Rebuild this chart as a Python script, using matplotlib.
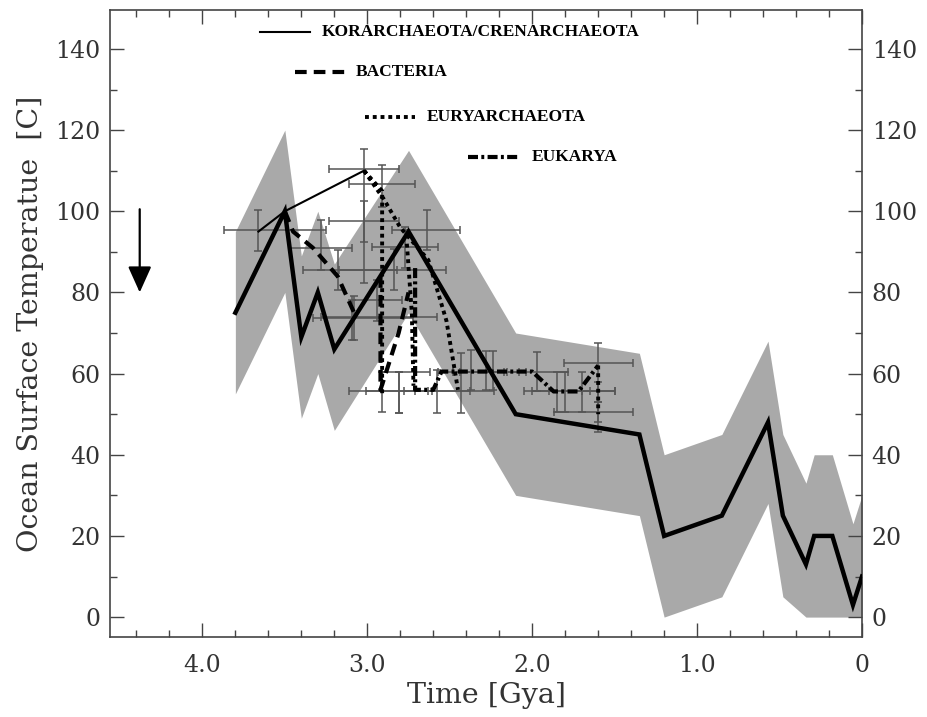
import matplotlib
matplotlib.use("Agg")
import matplotlib.pyplot as plt
import numpy as np
from matplotlib.ticker import MultipleLocator

# Mean ocean surface temperature history with its uncertainty envelope
main_t = [3.80, 3.50, 3.40, 3.30, 3.20, 2.75, 2.10, 1.35, 1.20, 0.85, 0.57, 0.48, 0.34, 0.29, 0.18, 0.055, 0.0]
main_T = [75, 100, 69, 80, 66, 95, 50, 45, 20, 25, 48, 25, 13, 20, 20, 3, 10]
band_hi = [95, 120, 89, 100, 87, 115, 70, 65, 40, 45, 68, 45, 33, 40, 40, 23, 30]
band_lo = [55, 80, 49, 60, 46, 75, 30, 25, 0, 5, 28, 5, 0, 0, 0, 0, 0]

# Lineage temperature paths (NaN separates branches)
kor_t = [3.66, 3.50, 3.02]
kor_T = [95, 100, 110]

bac_t = [3.50, 3.45, 3.33, 3.18, 3.08, np.nan, 2.92, 2.92, 2.81, 2.75]
bac_T = [100, 95, 91, 84, 75, np.nan, 84, 56, 70, 80]

eur_t = [3.02, 2.90, 2.80, 2.63, 2.52, 2.45, np.nan, 3.02, 2.91, 2.91, np.nan,
         2.76, 2.73, 2.72, np.nan, 1.60, 1.60]
eur_T = [110, 103, 96, 88, 73, 56, np.nan, 110, 105, 55, np.nan,
         92, 75, 57, np.nan, 62, 50]

euk_t = [2.71, 2.71, 2.60, 2.55, 2.00, 1.87, 1.72, 1.60]
euk_T = [86, 56, 56, 60.5, 60.5, 55.6, 55.6, 62]

# Node estimates: centre and extent of the time / temperature ranges
eb_t    = [3.66, 3.02, 2.91, 3.02, 2.64, 3.28, 2.77, 3.18, 2.84, 3.09, 2.94, 3.08,
           2.91, 2.81, 2.58, 2.43, 2.37, 2.28, 2.24, 2.81,
           1.97, 1.60, 1.85, 1.80, 1.70, 1.60, 1.60]
eb_T    = [95.3, 110.3, 106.7, 97.5, 95.4, 91.0, 91.1, 85.6, 85.6, 74.0, 78.2, 73.7,
           55.6, 55.6, 55.6, 55.6, 60.5, 60.5, 60.5, 60.5,
           60.5, 62.6, 55.6, 55.6, 55.6, 50.6, 55.6]
eb_tmin = [3.25, 2.81, 2.71, 2.81, 2.44, 3.09, 2.57, 2.82, 2.52, 2.58, 2.79, 2.72,
           2.71, 2.61, 2.38, 2.23, 2.17, 2.08, 2.04, 2.62,
           1.78, 1.39, 1.65, 1.60, 1.50, 1.39, 1.50]
eb_tmax = [3.87, 3.23, 3.11, 3.23, 2.85, 3.47, 2.97, 3.39, 3.17, 3.28, 3.09, 3.33,
           3.11, 3.01, 2.78, 2.63, 2.57, 2.48, 2.44, 2.91,
           2.15, 1.81, 2.05, 2.00, 1.90, 1.87, 1.70]
eb_Tmin = [90.3, 82.3, 101.0, 92.5, 90.5, 85.6, 86.0, 80.6, 80.6, 68.3, 73.0, 68.3,
           50.6, 50.3, 50.3, 50.3, 56.0, 56.0, 56.0, 50.2,
           55.6, 45.7, 50.6, 50.6, 50.6, 48.0, 53.0]
eb_Tmax = [100.2, 115.3, 111.5, 102.5, 100.4, 97.9, 96.0, 90.5, 90.6, 78.2, 83.0, 79.0,
           60.5, 60.5, 61.0, 65.0, 65.8, 65.5, 65.5, 60.5,
           65.4, 67.6, 60.5, 60.5, 60.5, 53.0, 58.0]

x_ticks = [4.0, 3.0, 2.0, 1.0, 0.0]
x_ticklabels = ["4.0", "3.0", "2.0", "1.0", "0"]
y_ticks = [0, 20, 40, 60, 80, 100, 120, 140]

legend_names = ["KORARCHAEOTA/CRENARCHAEOTA", "BACTERIA", "EURYARCHAEOTA", "EUKARYA"]

txt_col = "#333333"
serif = ["DejaVu Serif"]

fig = plt.figure(figsize=(9.27, 7.17), dpi=100)
ax = fig.add_axes([0.1187, 0.1116, 0.8112, 0.8745])

ax.fill_between(main_t, band_lo, band_hi, color="#a9a9a9", lw=0, zorder=1)

t = np.array(eb_t)
T = np.array(eb_T)
ax.errorbar(t, T,
            xerr=[t - np.array(eb_tmin), np.array(eb_tmax) - t],
            yerr=[T - np.array(eb_Tmin), np.array(eb_Tmax) - T],
            fmt="none", ecolor="#555555", elinewidth=1.1, capsize=2.8,
            capthick=1.1, zorder=2)

ax.plot(main_t, main_T, color="black", lw=3.2, solid_joinstyle="miter", zorder=5)

style_kor = dict(color="black", lw=1.5, linestyle="-")
style_bac = dict(color="black", lw=3.0, linestyle=(0, (2.8, 1.7)))
style_eur = dict(color="black", lw=2.8, linestyle=(0, (1, 1)))
style_euk = dict(color="black", lw=3.0, linestyle=(0, (2.4, 0.8, 0.7, 0.8)))

ax.plot(kor_t, kor_T, zorder=4, **style_kor)
ax.plot(bac_t, bac_T, zorder=4, **style_bac)
ax.plot(eur_t, eur_T, zorder=4, **style_eur)
ax.plot(euk_t, euk_T, zorder=4, **style_euk)

# staggered key in the upper part of the panel
key_rows = [(0.199, 0.266, 0.282, 0.965, style_kor),
            (0.246, 0.312, 0.327, 0.901, style_bac),
            (0.339, 0.406, 0.421, 0.829, style_eur),
            (0.476, 0.545, 0.561, 0.766, style_euk)]
for name, (x0, x1, xt, yk, st) in zip(legend_names, key_rows):
    ax.plot([x0, x1], [yk, yk], transform=ax.transAxes, clip_on=False, **st)
    ax.text(xt, yk, name, transform=ax.transAxes, va="center", ha="left",
            fontsize=12.5, fontweight="bold", family=["Liberation Serif"], color="black")

# downward arrow on the left
ax.annotate("", xy=(4.38, 80), xytext=(4.38, 100.5),
            arrowprops=dict(arrowstyle="-|>,head_length=1.6,head_width=0.72",
                            lw=1.6, color="black", shrinkA=0, shrinkB=0))

ax.set_xlim(4.56, 0.0)
ax.set_ylim(-4.9, 149.6)
ax.set_xticks(x_ticks)
ax.set_xticklabels(x_ticklabels)
ax.set_yticks(y_ticks)
ax.xaxis.set_minor_locator(MultipleLocator(0.2))
ax.yaxis.set_minor_locator(MultipleLocator(10))

ax.tick_params(which="both", direction="in", top=True, right=True,
               labelright=True, colors="#444444", width=1.0)
ax.tick_params(which="major", length=10)
ax.tick_params(which="minor", length=5)
ax.tick_params(axis="x", which="major", pad=12)
ax.tick_params(axis="y", which="major", pad=7)
for lab in ax.get_xticklabels():
    lab.set_family(serif)
    lab.set_fontsize(17)
    lab.set_color(txt_col)
for tk in ax.yaxis.get_major_ticks():
    for lab in (tk.label1, tk.label2):
        lab.set_family(serif)
        lab.set_fontsize(17)
        lab.set_color(txt_col)

for sp in ax.spines.values():
    sp.set_color("#444444")
    sp.set_linewidth(1.2)

ax.set_xlabel("Time [Gya]", family=serif, fontsize=20.5, color=txt_col, labelpad=4)
ax.set_ylabel("Ocean Surface Temperatue  [C]", family=serif, fontsize=20.5,
              color=txt_col, labelpad=8)

fig.savefig("out.png", dpi=100, facecolor="white")
